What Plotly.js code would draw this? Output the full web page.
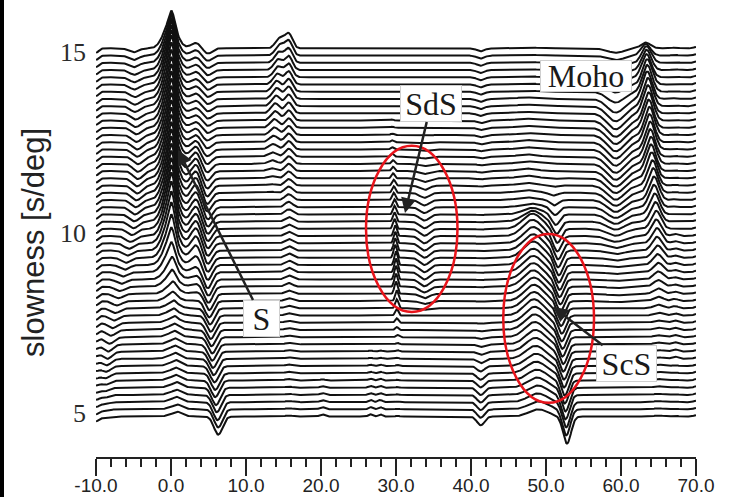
<!DOCTYPE html>
<html><head><meta charset="utf-8">
<script src="https://cdn.plot.ly/plotly-3.0.1.min.js"></script>
<style>html,body{margin:0;padding:0;background:#fff;} #chart{width:733px;height:497px;}</style>
</head><body><div id="chart"></div>
<script>
// ---- data ----
const slowness = [4.9,5.1,5.3,5.5,5.7,5.9,6.1,6.3,6.5,6.7, 6.9,7.1,7.3,7.5,7.7,7.9,8.1,8.3,8.5,8.7, 8.9,9.1,9.3,9.5,9.7,9.9,10.1,10.3,10.5,10.7, 10.9,11.1,11.3,11.5,11.7,11.9,12.1,12.3,12.5,12.7, 12.9,13.1,13.3,13.5,13.7,13.9,14.1,14.3,14.5,14.7, 14.9,15.1];

const xTickVals = [-10,0,10,20,30,40,50,60,70];
const xTickText = ['-10.0','0.0','10.0','20.0','30.0','40.0','50.0','60.0','70.0'];
const yTickVals = [5,10,15];
const yTickText = ['5','10','15'];

// precursor dip
const precursorTime = [-9.0,-9.0,-9.0,-8.9,-8.9,-8.8,-8.8,-8.7,-8.6,-8.5, -8.4,-8.2,-8.0,-7.8,-7.6,-7.4,-7.2,-7.0,-6.8,-6.6, -6.4,-6.2,-6.0,-5.8,-5.6,-5.4,-5.2,-5.0,-4.9,-4.8, -4.7,-4.6,-4.5,-4.5,-4.4,-4.4,-4.4,-4.5,-4.5,-4.6, -4.6,-4.7,-4.7,-4.8,-4.8,-4.8,-4.9,-4.9,-4.9,-5.0, -5.0,-5.0];
const precursorAmp = [-0.04,-0.05,-0.06,-0.08,-0.10,-0.12,-0.14,-0.16,-0.18,-0.20, -0.20,-0.18,-0.16,-0.15,-0.14,-0.13,-0.12,-0.12,-0.12,-0.12, -0.12,-0.13,-0.14,-0.14,-0.15,-0.16,-0.17,-0.18,-0.19,-0.20, -0.20,-0.21,-0.22,-0.22,-0.22,-0.22,-0.21,-0.20,-0.20,-0.19, -0.18,-0.18,-0.17,-0.16,-0.16,-0.15,-0.14,-0.14,-0.13,-0.12, -0.12,-0.11];

// direct S
const sTime = [0.9,0.9,0.8,0.8,0.8,0.7,0.7,0.7,0.6,0.6, 0.6,0.5,0.5,0.5,0.4,0.4,0.3,0.3,0.2,0.2, 0.1,0.1,0.1,0.1,0.1,0.1,0.1,0.1,0.1,0.1, 0.1,0.1,0.1,0.1,0.1,0.1,0.1,0.1,0.1,0.1, 0.1,0.1,0.1,0.1,0.1,0.1,0.1,0.1,0.1,0.1, 0.1,0.1];
const sAmp = [0.13,0.13,0.14,0.14,0.15,0.15,0.15,0.16,0.16,0.16, 0.16,0.17,0.17,0.18,0.19,0.21,0.25,0.33,0.45,0.60, 0.80,1.00,1.15,1.28,1.38,1.45,1.50,1.50,1.50,1.50, 1.50,1.50,1.50,1.50,1.50,1.50,1.50,1.50,1.50,1.50, 1.50,1.50,1.50,1.50,1.50,1.50,1.45,1.38,1.30,1.20, 1.10,1.00];

// second peak after S
const s2Time = 3.3;
const s2Amp = [0,0,0,0,0,0,0,0,0,0, 0,0,0,0,0,0,0.02,0.05,0.08,0.11, 0.15,0.25,0.35,0.40,0.42,0.42,0.42,0.42,0.42,0.42, 0.42,0.42,0.40,0.38,0.35,0.32,0.28,0.24,0.20,0.18, 0.16,0.15,0.15,0.15,0.15,0.15,0.15,0.15,0.15,0.15, 0.15,0.15];

// trough after S
const troughTime = [6.3,6.3,6.2,6.1,6.0,5.9,5.9,5.8,5.7,5.6, 5.5,5.5,5.4,5.3,5.3,5.2,5.1,5.1,5.0,5.0, 4.9,4.9,4.9,4.9,4.9,4.9,4.9,4.9,4.9,4.9, 4.8,4.8,4.8,4.8,4.8,4.8,4.8,4.8,4.8,4.8, 4.9,4.9,4.9,4.9,4.9,4.9,4.9,4.9,4.9,4.9, 4.9,4.9];
const troughAmp = [-0.50,-0.50,-0.50,-0.48,-0.48,-0.46,-0.46,-0.45,-0.45,-0.45, -0.45,-0.45,-0.45,-0.45,-0.45,-0.45,-0.45,-0.45,-0.45,-0.45, -0.45,-0.42,-0.40,-0.38,-0.36,-0.35,-0.35,-0.35,-0.35,-0.35, -0.34,-0.33,-0.32,-0.30,-0.28,-0.25,-0.22,-0.20,-0.18,-0.16, -0.15,-0.15,-0.15,-0.15,-0.15,-0.15,-0.15,-0.15,-0.15,-0.15, -0.15,-0.15];

// arrivals near 14-16 s
const late15Time = 15.7;
const late15Amp = [0.03,0.03,0.03,0.03,0.03,0.04,0.04,0.04,0.04,0.04, 0.04,0.04,0.05,0.05,0.06,0.07,0.08,0.09,0.10,0.11, 0.12,0.12,0.12,0.12,0.12,0.12,0.12,0.13,0.14,0.15, 0.16,0.17,0.18,0.19,0.20,0.21,0.22,0.23,0.24,0.25, 0.26,0.28,0.30,0.32,0.34,0.35,0.36,0.37,0.38,0.39, 0.40,0.40];
const late14Time = [13.3,13.3,13.3,13.3,13.3,13.3,13.3,13.3,13.3,13.3, 13.3,13.3,13.3,13.3,13.3,13.3,13.3,13.3,13.3,13.3, 13.3,13.3,13.3,13.3,13.3,13.3,13.3,13.3,13.3,13.3, 13.3,13.3,13.3,13.4,13.4,13.5,13.5,13.6,13.7,13.8, 13.8,13.9,13.9,14.0,14.1,14.1,14.2,14.3,14.3,14.4, 14.5,14.5];
const late14Amp = [0,0,0,0,0,0,0,0,0,0, 0,0,0,0,0,0,0,0,0,0, 0,0,0,0,0,0,0,0,0,0, 0.02,0.03,0.04,0.06,0.08,0.10,0.12,0.15,0.18,0.21, 0.24,0.26,0.28,0.29,0.30,0.30,0.30,0.30,0.30,0.30, 0.30,0.28];

// small wiggles on the lowest traces
const late20Time = 20.2;
const late20Amp = [0.06,0.06,0.05,0.05,0.04,0.03,0,0,0,0, 0,0,0,0,0,0,0,0,0,0, 0,0,0,0,0,0,0,0,0,0, 0,0,0,0,0,0,0,0,0,0, 0,0,0,0,0,0,0,0,0,0, 0,0];
const late27aTime = 26.6;
const late27bTime = 27.9;
const late27Amp = [0.06,0.06,0.06,0.05,0.05,0.05,0.04,0.04,0.03,0.03, 0.02,0.02,0,0,0,0,0,0,0,0, 0,0,0,0,0,0,0,0,0,0, 0,0,0,0,0,0,0,0,0,0, 0,0,0,0,0,0,0,0,0,0, 0,0];

// SdS
const sdsTime = [30.2,30.2,30.2,30.2,30.2,30.2,30.2,30.2,30.2,30.2, 30.2,30.2,30.1,30.1,30.1,30.1,30.1,30.0,30.0,30.0, 30.0,30.0,29.9,29.9,29.9,29.9,29.8,29.8,29.8,29.8, 29.7,29.7,29.7,29.6,29.6,29.6,29.5,29.5,29.5,29.5, 29.5,29.5,29.5,29.5,29.5,29.5,29.5,29.5,29.5,29.5, 29.5,29.5];
const sdsAmp = [0.02,0.02,0.02,0.02,0.02,0.02,0.03,0.03,0.03,0.04, 0.04,0.06,0.08,0.12,0.18,0.25,0.30,0.34,0.36,0.38, 0.38,0.38,0.36,0.34,0.32,0.30,0.28,0.26,0.24,0.22, 0.20,0.18,0.16,0.14,0.12,0.10,0.08,0.06,0.05,0.04, 0.03,0.03,0.02,0.02,0.02,0.02,0.02,0.02,0.02,0.02, 0.02,0.02];
const sdsTroughTime = 33.8;
const sdsTroughAmp = [0,0,0,0,0,0,0,0,0,0, 0,0,0,0,0,-0.04,-0.08,-0.12,-0.16,-0.19, -0.20,-0.20,-0.20,-0.20,-0.20,-0.20,-0.19,-0.18,-0.17,-0.16, -0.15,-0.14,-0.12,-0.10,-0.08,-0.06,-0.05,-0.04,-0.03,-0.02, 0,0,0,0,0,0,0,0,0,0, 0,0];

// trough near 41 s
const dip41Time = 41.3;
const dip41Amp = [-0.24,-0.23,-0.22,-0.21,-0.20,-0.19,-0.18,-0.15,-0.12,-0.09, -0.07,-0.05,-0.04,-0.03,-0.02,-0.02,-0.02,-0.02,-0.02,-0.02, -0.02,-0.02,-0.02,-0.02,-0.02,-0.02,-0.02,-0.02,-0.02,-0.02, -0.02,-0.02,-0.03,-0.03,-0.04,-0.04,-0.05,-0.05,-0.06,-0.06, -0.06,-0.07,-0.07,-0.08,-0.08,-0.08,-0.08,-0.08,-0.08,-0.08, -0.08,-0.08];

// ScS
const scsPeakTime = [49.0,49.0,48.9,48.9,48.8,48.8,48.7,48.7,48.6,48.6, 48.6,48.5,48.5,48.5,48.4,48.4,48.4,48.4,48.3,48.3, 48.3,48.3,48.3,48.3,48.3,48.2,48.2,48.2,48.2,48.0, 47.5,47.5,47.5,47.5,47.5,47.5,47.5,47.5,47.5,47.5, 47.3,47.3,47.3,47.3,47.3,47.3,47.3,47.3,47.3,47.3, 47.3,47.3];
const scsPeakAmp = [0.20,0.22,0.24,0.26,0.28,0.30,0.32,0.34,0.36,0.38, 0.40,0.42,0.43,0.44,0.45,0.45,0.45,0.45,0.45,0.45, 0.45,0.45,0.45,0.45,0.45,0.45,0.42,0.30,0.18,0.10, 0.07,0.07,0.07,0.07,0.07,0.07,0.06,0.06,0.06,0.05, 0.05,0.05,0.04,0.04,0.04,0.03,0.03,0.03,0.03,0.03, 0.03,0.03];
const scsTroughTime = [52.8,52.7,52.7,52.6,52.6,52.5,52.5,52.4,52.4,52.3, 52.3,52.2,52.2,52.1,52.1,52.0,52.0,51.9,51.9,51.8, 51.8,51.7,51.7,51.6,51.6,51.5,51.5,51.4,51.3,51.2, 51.1,51.0,51.0,51.0,51.0,51.0,51.0,51.0,51.0,51.0, 51.0,51.0,51.0,51.0,51.0,51.0,51.0,51.0,51.0,51.0, 51.0,51.0];
const scsTroughAmp = [-0.75,-0.72,-0.70,-0.68,-0.66,-0.64,-0.62,-0.60,-0.58,-0.56, -0.55,-0.54,-0.53,-0.52,-0.51,-0.50,-0.50,-0.50,-0.50,-0.50, -0.50,-0.50,-0.50,-0.48,-0.46,-0.44,-0.40,-0.35,-0.30,-0.22, -0.15,-0.08,-0.04,-0.02,0,0,0,0,0,0, 0,0,0,0,0,0,0,0,0,0, 0,0];

// broad trough before Moho
const dip59Time = 59.3;
const dip59Amp = [0,0,0,0,0,0,0,0,0,0, 0,0,0,0,-0.01,-0.02,-0.03,-0.04,-0.04,-0.04, -0.05,-0.06,-0.08,-0.10,-0.13,-0.16,-0.19,-0.22,-0.26,-0.30, -0.33,-0.36,-0.39,-0.41,-0.43,-0.44,-0.45,-0.45,-0.45,-0.45, -0.45,-0.45,-0.44,-0.42,-0.38,-0.30,-0.22,-0.18,-0.15,-0.13, -0.12,-0.12];

// Moho
const mohoTime = [65.0,65.0,65.0,65.0,65.0,65.0,65.0,65.0,65.0,65.0, 65.0,65.0,65.0,65.0,65.0,65.0,65.0,65.0,65.0,65.0, 65.0,64.9,64.9,64.8,64.8,64.7,64.7,64.6,64.5,64.4, 64.4,64.3,64.2,64.1,64.0,64.0,63.9,63.9,63.8,63.8, 63.7,63.7,63.6,63.6,63.5,63.5,63.5,63.4,63.4,63.4, 63.3,63.3];
const mohoAmp = [0.03,0.03,0.03,0.03,0.04,0.04,0.04,0.04,0.04,0.04, 0.05,0.05,0.06,0.06,0.08,0.10,0.12,0.15,0.18,0.22, 0.26,0.30,0.34,0.38,0.42,0.46,0.50,0.54,0.58,0.62, 0.65,0.68,0.70,0.72,0.74,0.75,0.76,0.77,0.78,0.78, 0.78,0.78,0.78,0.78,0.76,0.74,0.70,0.64,0.56,0.46, 0.32,0.16];
const late67Time = 67.2;
const late67Amp = [0.02,0.02,0.02,0.02,0.02,0.02,0.02,0.02,0.06,0.06, 0.06,0.06,0.06,0.06,0.06,0.06,0.06,0.06,0.06,0.06, 0.06,0.06,0.06,0.06,0.06,0.06,0.02,0.02,0.02,0.02, 0.02,0.02,0.02,0.02,0.02,0.02,0.02,0.02,0.02,0.02, 0.02,0.02,0.02,0.02,0.02,0.02,0.02,0.02,0.02,0.02, 0.02,0.02];

// trace end tapers
const edgeLeftTime = -10, edgeLeftAmp = -0.12;
const edgeRightTime = 70, edgeRightAmp = 0.04;

// ---- build the record section ----
const timeAxis = [];
for (let k = 0; k <= 800; k++) timeAxis.push(Math.round((-10 + k * 0.1) * 10) / 10);

function g(t, t0, w) { const u = (t - t0) / w; return Math.exp(-u * u); }
function val(v, i) { return Array.isArray(v) ? v[i] : v; }

const phases = [
  {t: edgeLeftTime, a: edgeLeftAmp, w: 0.5},
  {t: edgeRightTime, a: edgeRightAmp, w: 0.4},
  {t: precursorTime, a: precursorAmp, w: 0.9},
  {t: s2Time, a: s2Amp, w: 0.9},
  {t: troughTime, a: troughAmp, w: 0.8},
  {t: late15Time, a: late15Amp, w: 0.7},
  {t: late14Time, a: late14Amp, w: 0.8},
  {t: late20Time, a: late20Amp, w: 0.5},
  {t: late27aTime, a: late27Amp, w: 0.4},
  {t: late27bTime, a: late27Amp, w: 0.4},
  {t: sdsTime, a: sdsAmp, w: 0.3},
  {t: sdsTroughTime, a: sdsTroughAmp, w: 0.9},
  {t: dip41Time, a: dip41Amp, w: 0.7},
  {t: scsPeakTime, a: scsPeakAmp, w: 1.8},
  {t: scsTroughTime, a: scsTroughAmp, w: 0.75},
  {t: dip59Time, a: dip59Amp, w: 1.6},
  {t: mohoTime, a: mohoAmp, w: 0.9},
  {t: late67Time, a: late67Amp, w: 0.6}
];

const traces = slowness.map((s, i) => {
  const y = timeAxis.map(t => {
    let v = s + sAmp[i] * (0.35 * g(t, sTime[i], 0.5) + 0.7 * g(t, sTime[i] - 0.2, 1.25));
    for (const p of phases) v += val(p.a, i) * g(t, val(p.t, i), p.w);
    return v;
  });
  return {type: 'scatter', mode: 'lines', x: timeAxis, y: y,
          line: {color: '#111', width: 2}, hoverinfo: 'skip', showlegend: false};
});

const labelFont = {family: 'Liberation Serif, Times New Roman, serif', size: 32, color: '#1a1a1a'};
const boxStyle = {bgcolor: '#ffffff', bordercolor: '#cfcfcf', borderwidth: 1, borderpad: 1};
const arrowStyle = {showarrow: true, arrowhead: 2, arrowsize: 1.2, arrowwidth: 2.5, arrowcolor: '#222'};

// paper spans the whole figure except the right margin; the plot area sits in it via domains
const layout = {
  width: 733, height: 497,
  margin: {l: 0, r: 37, t: 0, b: 0},
  paper_bgcolor: '#fff', plot_bgcolor: '#fff', showlegend: false,
  xaxis: {domain: [96 / 696, 1], range: [-10, 70], tickmode: 'array', tickvals: xTickVals, ticktext: xTickText,
    ticks: 'outside', ticklen: 17, tickwidth: 1.5, tickcolor: '#222', ticklabelstandoff: -6,
    showline: true, linecolor: '#222', linewidth: 1.5, showgrid: false, zeroline: false,
    tickfont: {family: 'Liberation Sans, Arial, sans-serif', size: 19, color: '#222'},
    minor: {dtick: 2, tick0: -10, ticks: 'outside', ticklen: 8, tickwidth: 1.5, tickcolor: '#222', showgrid: false},
    automargin: false, fixedrange: true},
  yaxis: {domain: [40 / 497, 1], range: [3.78, 16.44], tickmode: 'array', tickvals: yTickVals, ticktext: yTickText,
    ticks: '', showline: false, showgrid: false, zeroline: false, ticklabelstandoff: 9,
    tickfont: {family: 'Liberation Serif, Times New Roman, serif', size: 26, color: '#2b2b2b'},
    automargin: false, fixedrange: true},
  shapes: [
    {type: 'rect', xref: 'paper', yref: 'paper', x0: 0, x1: 4 / 696, y0: 0, y1: 1,
     fillcolor: '#000', line: {width: 0}, layer: 'above'},
    {type: 'circle', xref: 'x', yref: 'y', x0: 26.0, x1: 38.2, y0: 7.8, y1: 12.4,
     line: {color: '#e8141b', width: 2.5}},
    {type: 'circle', xref: 'x', yref: 'y', x0: 44.3, x1: 56.4, y0: 5.28, y1: 9.96,
     line: {color: '#e8141b', width: 2.5}}
  ],
  annotations: [
    Object.assign({text: 'S', x: 0.93, y: 12.29, ax: 12.13, ay: 7.63, xref: 'x', yref: 'y', axref: 'x', ayref: 'y',
      font: labelFont, width: 33, height: 33}, boxStyle, arrowStyle),
    Object.assign({text: 'SdS', x: 31.2, y: 10.54, ax: 34.67, ay: 13.56, xref: 'x', yref: 'y', axref: 'x', ayref: 'y',
      font: labelFont, width: 58, height: 33}, boxStyle, arrowStyle),
    Object.assign({text: 'ScS', x: 50.93, y: 7.94, ax: 60.67, ay: 6.38, xref: 'x', yref: 'y', axref: 'x', ayref: 'y',
      font: labelFont, width: 57, height: 33}, boxStyle, arrowStyle),
    Object.assign({text: 'Moho', x: 55.33, y: 14.34, xref: 'x', yref: 'y', showarrow: false,
      font: labelFont, width: 88, height: 28}, boxStyle),
    {text: 'slowness [s/deg]', textangle: -90, xref: 'paper', yref: 'paper', x: 33 / 696, y: (497 - 243) / 497,
     xanchor: 'center', yanchor: 'middle', showarrow: false,
     font: {family: 'Liberation Sans, Arial, sans-serif', size: 31, color: '#222'}}
  ]
};

Plotly.newPlot('chart', traces, layout, {staticPlot: true, displayModeBar: false});
</script>
</body></html>
